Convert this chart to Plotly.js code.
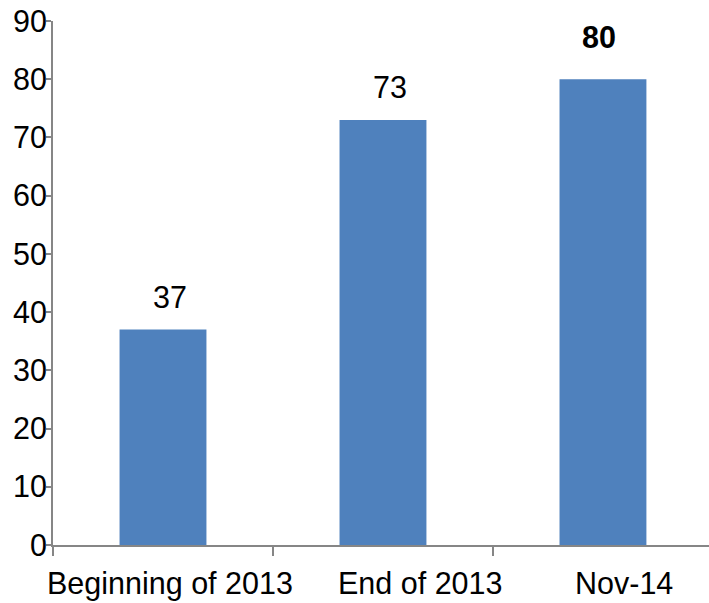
<!DOCTYPE html>
<html>
<head>
<meta charset="utf-8">
<script src="https://cdn.plot.ly/plotly-3.0.1.min.js"></script>
<style>html,body{margin:0;padding:0;background:#fff;}#chart{width:709px;height:603px;}</style>
</head>
<body>
<div id="chart"></div>
<script>
const categories = ["Beginning of 2013", "End of 2013", "Nov-14"];
const values = [37, 73, 80];
const valueLabels = ["37", "73", "<b>80</b>"];
const yTicks = [0, 10, 20, 30, 40, 50, 60, 70, 80, 90];

const labelXShift = [7, 7, -4];
const catXShift = [7, 38, 21];
const valueYShift = [14, 14, 23];

const font = "Liberation Sans, Arial, sans-serif";
const fsize = 30.5;

const annotations = [];
categories.forEach((c, i) => {
  annotations.push({
    x: c, y: values[i], xref: "x", yref: "y",
    text: valueLabels[i], showarrow: false,
    yanchor: "bottom", xanchor: "center",
    xshift: labelXShift[i], yshift: valueYShift[i],
    font: {family: font, size: fsize, color: "#000"}
  });
  annotations.push({
    x: c, y: 0, xref: "x", yref: "paper",
    text: c, showarrow: false,
    yanchor: "top", xanchor: "center",
    xshift: catXShift[i], yshift: -19,
    font: {family: font, size: fsize, color: "#000"}
  });
});

const trace = {
  type: "bar",
  x: categories,
  y: values,
  width: 0.395,
  marker: {color: "#4F81BD"},
  hoverinfo: "none"
};

const layout = {
  width: 709, height: 603,
  margin: {l: 53, r: 0, t: 21, b: 58, pad: 0},
  paper_bgcolor: "#fff", plot_bgcolor: "#fff",
  showlegend: false,
  xaxis: {
    type: "category",
    range: [-0.5, 2.482],
    showgrid: false, zeroline: false,
    showline: true, linecolor: "#868686", linewidth: 2,
    ticks: "outside", tickson: "boundaries", ticklen: 9, tickwidth: 2, tickcolor: "#868686",
    showticklabels: false,
    fixedrange: true
  },
  yaxis: {
    range: [0, 90],
    tickvals: yTicks,
    ticktext: yTicks.map(String),
    showgrid: false, zeroline: false,
    showline: true, linecolor: "#868686", linewidth: 2,
    ticks: "outside", ticklen: 5, tickwidth: 2, tickcolor: "#868686",
    tickfont: {family: font, size: fsize, color: "#000"},
    ticklabelstandoff: -7,
    fixedrange: true
  },
  annotations: annotations
};

Plotly.newPlot("chart", [trace], layout, {displayModeBar: false, staticPlot: true});
</script>
</body>
</html>
